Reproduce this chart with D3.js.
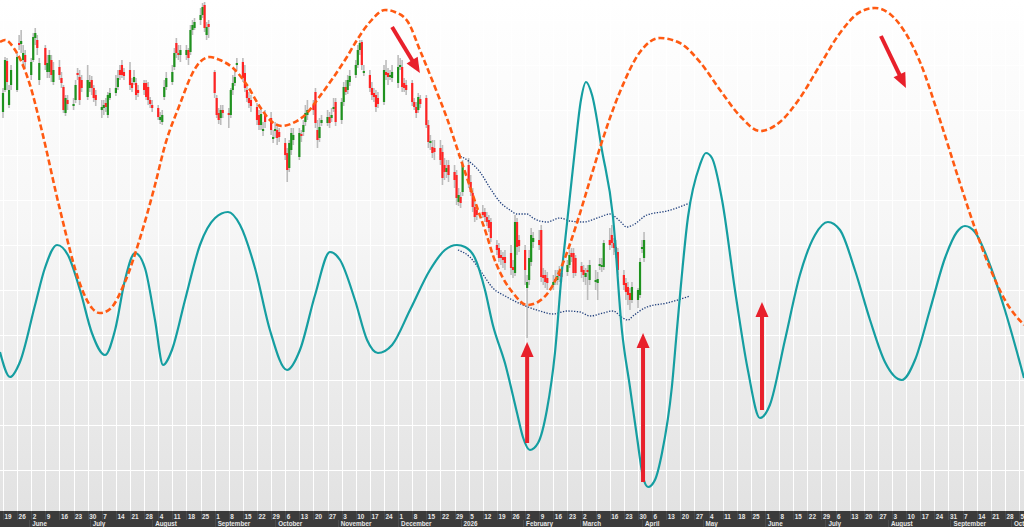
<!DOCTYPE html>
<html><head><meta charset="utf-8">
<script src="https://cdn.jsdelivr.net/npm/d3@7"></script>
<style>html,body{margin:0;padding:0;background:#fff;overflow:hidden}svg{display:block}</style>
</head><body>
<svg id="c" width="1024" height="527"></svg>
<script>
// ---------- DATA ----------
const startDate = Date.UTC(2025, 4, 19);
const endDate = Date.UTC(2026, 9, 5);

// daily OHLC (trading days from 2025-05-19)
const open = [388,410,439,395,415, 410,457,456,440,445, 425,440,462,460,420, 452,428,428,440,418,
 433,422,413,387,400, 394,400,427,423,420, 403,412,420,412,405, 390,392,397,385,402,
 407,413,430,435,428, 430,417,418,417,410, 417,417,413,400,395, 392,380,378,403,413,
 418,433,457,447,445, 445,450,448,470,472, 480,485,495,465,476, 428,402,387,382,390,
 387,385,410,417,435, 438,427,410,402,400, 393,385,375,369,385, 382,361,369,370,368,
 357,347,332,350,360, 343,366,368,378,385, 395,408,370,362,377, 377,383,382,391,398,
 380,398,413,410,418, 425,435,450,458,427, 425,412,407,405,402, 398,428,427,423,422,
 417,433,433,417,415, 417,398,393,390,401, 402,375,357,353,352, 352,348,335,328,335,
 328,325,298,303,308, 335,318,307,293,290, 288,288,283,280,278, 255,252,245,243,243,
 247,233,227,278,260, 250,212,220,238,258, 260,270,225,225,222, 215,219,220,228,227,
 228,235,247,247,242, 234,230,223,230,220, 218,217,234,233,233, 260,265,257,253,248,
 225,217,213,207,200, 200,205,251,242];
const high = [412,443,442,415,435, 447,465,470,455,450, 442,467,472,465,442, 455,445,450,445,438,
 440,428,415,405,405, 402,420,432,430,425, 435,425,424,415,410, 400,400,402,408,412,
 425,430,435,440,432, 438,422,430,422,415, 420,420,418,403,400, 395,388,390,420,428,
 435,452,462,455,455, 455,452,475,480,482, 492,497,498,478,480, 430,405,392,395,395,
 392,412,425,430,442, 442,435,415,408,405, 397,390,392,378,390, 388,370,378,375,372,
 362,352,360,372,372, 372,370,380,395,400, 400,412,380,382,385, 390,388,392,402,402,
 402,418,420,425,430, 440,455,460,460,435, 430,418,412,410,408, 435,440,432,430,435,
 445,442,440,422,420, 420,402,398,407,405, 405,380,365,360,360, 360,355,342,340,340,
 335,330,312,308,340, 342,325,312,300,295, 295,292,288,285,282, 260,257,250,248,250,
 255,240,285,282,265, 255,225,250,272,268, 270,275,232,230,228, 225,230,230,234,232,
 240,250,252,252,245, 238,235,232,235,240, 230,228,242,242,260, 272,275,262,260,252,
 230,222,218,212,218, 212,242,260,268];
const low = [382,408,410,392,410, 408,450,447,435,432, 420,438,455,445,415, 430,422,422,418,415,
 420,412,387,384,390, 390,397,420,395,408, 400,408,405,398,394, 382,385,388,382,400,
 404,410,420,422,420, 410,408,415,400,403, 405,400,395,392,388, 380,376,375,400,410,
 415,430,442,440,438, 440,435,445,465,470, 475,482,468,460,462, 402,382,376,375,382,
 372,382,405,414,430, 418,408,398,392,388, 375,370,370,364,372, 365,357,362,355,358,
 340,318,328,345,355, 340,358,364,374,380, 385,372,352,358,374, 374,372,378,388,374,
 376,394,405,406,414, 422,432,445,430,424, 408,400,398,388,392, 395,420,415,420,418,
 412,430,408,408,405, 394,390,382,387,392, 372,352,350,342,340, 335,315,320,322,318,
 312,295,294,292,304, 312,304,288,278,280, 282,278,274,268,258, 245,238,235,232,230,
 225,222,224,245,248, 215,162,215,234,252, 250,218,215,212,210, 210,215,215,218,218,
 224,232,238,222,224, 222,218,215,200,215, 210,200,230,228,230, 250,252,245,242,225,
 210,200,195,190,197, 192,202,247,238];
const close = [407,440,418,410,430, 443,455,459,447,438, 438,463,467,452,437, 435,437,445,425,430,
 425,417,390,402,396, 396,415,425,400,412, 420,418,412,402,400, 393,395,393,405,407,
 412,422,425,425,424, 415,412,423,405,407, 410,403,400,396,392, 383,383,385,413,422,
 428,447,447,445,450, 450,442,470,475,478, 485,493,472,473,473, 407,385,380,390,387,
 385,410,417,423,437, 422,412,402,397,394, 380,375,386,371,378, 370,363,371,362,363,
 345,330,357,367,365, 367,364,375,387,390, 390,377,360,373,380, 383,377,385,393,378,
 398,413,408,420,424, 435,450,457,435,429, 412,405,403,393,396, 430,425,423,425,428,
 433,435,413,412,410, 398,393,387,403,396, 375,358,359,347,348, 340,322,328,332,325,
 320,302,305,297,335, 317,308,293,283,285, 285,283,278,272,262, 250,242,242,240,237,
 232,230,278,253,254, 230,218,242,265,262, 255,223,222,218,217, 218,221,224,224,223,
 235,245,243,227,227, 228,225,227,228,235, 220,221,236,235,257, 255,257,252,248,230,
 215,208,205,200,213, 210,238,253,260];

// dominant cycle (teal) : [day offset from start, value]
const tealCycle = [[-1.5,148],[3.5,123],[8.4,138],[15.9,195],[20.8,232],[26.8,255],[32.2,245],[38.2,210],[44.1,167],[50.6,145],
 [55.6,170],[60.5,220],[65.5,247],[70.4,232],[75.4,180],[79.4,135],[83.8,150],[90.3,200],[97.7,255],[105.2,282],
 [111.6,288],[117.6,275],[125,232],[132.4,170],[140.9,130],[147.3,150],[154.8,205],[162.2,248],[167.2,240],[174.6,200],
 [180.6,160],[186,147],[193,155],[201.9,190],[211.8,230],[219.2,250],[225.2,255],[229.2,253],[234.1,242],[239.1,210],
 [243,175],[249,137],[255,87],[257.9,63],[261.4,50],[265.4,57],[269.8,90],[273.8,147],[277.3,230],[279.8,277],
 [283.7,350],[286.7,400],[289.2,418],[292.2,405],[297.1,350],[302.6,283],[307,170],[311,113],[314.5,63],[317.5,23],
 [320,13],[323.4,20],[326.9,47],[331.8,113],[334.3,170],[339.8,283],[345.7,335],[348.7,347],[351.7,342],[356.7,300],
 [363.1,210],[369.5,130],[375.5,82],[380.4,95],[387.9,160],[395.3,225],[402.8,265],[409.2,278],[415.2,270],[422.6,230],
 [430.1,180],[437.5,138],[445.9,120],[452.4,140],[459.8,190],[467.3,242],[473.2,268],[477.2,274],[482.1,268],[489.6,235],
 [497,190],[506.5,122]];

// long cycle (orange dashed) : [day offset, value]
const longCycle = [[-1.5,458],[1,460],[6,450],[13.4,415],[19.3,369],[28.3,290],[38.2,216],[44.1,192],[48.1,187],[53.1,191],
 [60.5,218],[68,262],[75.4,315],[80.4,355],[87.8,396],[93.8,426],[97.7,438],[102.7,443],[107.6,440],[114.1,432],
 [121,415],[127.5,393],[132.4,380],[138.4,374],[143.8,377],[150.8,387],[155.8,400],[163.7,422],[170.6,443],[175.6,460],
 [182,478],[189.5,490],[194.4,488],[200.9,478],[206.8,450],[215.8,405],[220.2,382],[225.2,352],[230.2,322],[235.1,293],
 [240.1,264],[243,245],[246.5,228],[253,207],[260,195],[265.4,198],[271.3,210],[277.8,237],[284.7,277],[291.2,320],
 [296.1,352],[306,408],[316,448],[325.9,462],[335.8,457],[345.7,438],[355.7,410],[365.6,384],[375.5,369],[385.4,378],
 [395.3,402],[405.3,435],[415.2,467],[425.1,488],[432.5,492],[440,486],[447.4,468],[454.9,438],[464.8,380],[474.7,317],
 [482.1,272],[489.6,232],[497,200],[506.5,175]];

// projection bands
const upperBand = [[225.7,345],[231.6,338],[236.6,328],[241.6,312],[246.5,298],[251.5,290],[255,286],[260,286],[262.9,282],[269.8,278],
 [276.3,282],[281.2,279],[287.7,278],[296.1,283],[301.1,286],[306,279],[309.5,273],[312.5,275],[319.4,285],[329.4,289],[340.8,297]];
const lowerBand = [[225.7,250],[231.6,243],[236.6,230],[243,212],[250,203],[257.9,195],[266.4,189],[272.8,186],[279.8,189],[286.2,188],
 [291.2,184],[297.6,187],[302.6,189],[307.5,182],[310,180],[312.5,184],[319.4,193],[329.4,197],[340.8,204]];

// turning-point arrows: [fromDay, fromValue, toDay, toValue]
const arrowsData = [[193,473,206.8,427],[435.5,464,447.9,412],[260,57,260,158],[317.5,18,317.5,167],[376.5,90,376.5,198]];

const gridValues = [30,75,120,165,210,255,300,345,390,435,480];

// ---------- CHART ----------
const W = 1024, H = 527, plotBottom = 511;
const svg = d3.select("#c");
const x = d3.scaleUtc().domain([startDate, endDate]).range([3, 1019]);
const y = d3.scaleLinear().domain([0, 500]).range([500, 0]);
const dayDate = d => new Date(startDate + d * 864e5);

const defs = svg.append("defs");
const grad = defs.append("linearGradient").attr("id","bg").attr("x1",0).attr("y1",0).attr("x2",0).attr("y2",1);
grad.append("stop").attr("offset","0%").attr("stop-color","#ffffff");
grad.append("stop").attr("offset","45%").attr("stop-color","#f6f6f6");
grad.append("stop").attr("offset","100%").attr("stop-color","#e2e2e2");
defs.append("clipPath").attr("id","plotclip").append("rect").attr("x",0).attr("y",0).attr("width",W).attr("height",plotBottom);

svg.append("rect").attr("x",0).attr("y",0).attr("width",W).attr("height",plotBottom).attr("fill","url(#bg)");

const weeks = d3.utcMonday.range(startDate, endDate + 864e5);
const g = svg.append("g").attr("clip-path","url(#plotclip)");
g.append("g").selectAll("line").data(weeks).join("line")
  .attr("x1", d => Math.round(x(d)) + 0.5).attr("x2", d => Math.round(x(d)) + 0.5)
  .attr("y1", 0).attr("y2", plotBottom).attr("stroke", "#ffffff").attr("stroke-width", 1);
g.append("g").selectAll("line").data(gridValues).join("line")
  .attr("x1", 0).attr("x2", W).attr("y1", d => Math.round(y(d)) + 0.5).attr("y2", d => Math.round(y(d)) + 0.5)
  .attr("stroke", "#ffffff").attr("stroke-width", 1);

// trading dates
const dates = [];
for (let d = new Date(startDate); dates.length < open.length; d = d3.utcDay.offset(d, 1)) {
  const wd = d.getUTCDay();
  if (wd > 0 && wd < 6) dates.push(d);
}
const candles = dates.map((d, i) => ({date: d, o: open[i], h: high[i], l: low[i], c: close[i]}));

const cg = g.append("g");
cg.selectAll("line").data(candles).join("line")
  .attr("x1", d => x(d.date)).attr("x2", d => x(d.date))
  .attr("y1", d => y(d.h)).attr("y2", d => y(d.l))
  .attr("stroke", "#bcbcbc").attr("stroke-width", 1.6);
cg.selectAll("rect").data(candles).join("rect")
  .attr("x", d => x(d.date) - 1.1).attr("width", 2.2)
  .attr("y", d => y(Math.max(d.o, d.c)))
  .attr("height", d => Math.max(1.2, Math.abs(y(d.o) - y(d.c))))
  .attr("fill", d => d.c >= d.o ? "#1f921f" : "#ff2424");

const line = d3.line().x(d => x(dayDate(d[0]))).y(d => y(d[1])).curve(d3.curveMonotoneX);

g.append("path").datum(upperBand).attr("d", line).attr("fill","none")
  .attr("stroke","#1f3f7c").attr("stroke-width",1.3).attr("stroke-dasharray","1.3,1.5");
g.append("path").datum(lowerBand).attr("d", line).attr("fill","none")
  .attr("stroke","#1f3f7c").attr("stroke-width",1.3).attr("stroke-dasharray","1.3,1.5");

g.append("path").datum(tealCycle).attr("d", line).attr("fill","none")
  .attr("stroke","#159ea1").attr("stroke-width",2.2);
g.append("path").datum(longCycle).attr("d", line).attr("fill","none")
  .attr("stroke","#ff5a12").attr("stroke-width",2.6).attr("stroke-dasharray","6,3");

// arrows
const ag = g.append("g");
arrowsData.forEach(a => {
  const x1 = x(dayDate(a[0])), y1 = y(a[1]), x2 = x(dayDate(a[2])), y2 = y(a[3]);
  const dx = x2 - x1, dy = y2 - y1, len = Math.hypot(dx, dy), ux = dx / len, uy = dy / len;
  const hl = 15, hw = 6.5;
  const bx = x2 - ux * hl, by = y2 - uy * hl;
  ag.append("line").attr("x1", x1).attr("y1", y1).attr("x2", bx + ux).attr("y2", by + uy)
    .attr("stroke", "#e8202b").attr("stroke-width", 4);
  ag.append("path").attr("d", `M${x2},${y2}L${bx - uy * hw},${by + ux * hw}L${bx + uy * hw},${by - ux * hw}Z`)
    .attr("fill", "#e8202b");
});

// ---------- AXIS ----------
const axis = svg.append("g");
axis.append("rect").attr("x",0).attr("y",plotBottom).attr("width",W).attr("height",H - plotBottom).attr("fill","#3b3b3b");
axis.append("g").selectAll("line").data(weeks).join("line")
  .attr("x1", d => Math.round(x(d)) + 0.5).attr("x2", d => Math.round(x(d)) + 0.5)
  .attr("y1", plotBottom).attr("y2", plotBottom + 9).attr("stroke", "#4c4c4c");
axis.append("g").selectAll("text").data(weeks).join("text")
  .attr("x", d => x(d) + 1.5).attr("y", plotBottom + 7.6)
  .attr("font-family", "'Liberation Sans', Arial, sans-serif").attr("font-size", 6.4).attr("font-weight", "bold")
  .attr("fill", "#e6e6e6").text(d3.utcFormat("%-d"));
const months = d3.utcMonth.range(d3.utcMonth.ceil(startDate), endDate + 864e5);
axis.append("g").selectAll("line").data(months).join("line")
  .attr("x1", d => Math.round(x(d)) + 0.5).attr("x2", d => Math.round(x(d)) + 0.5)
  .attr("y1", plotBottom + 9).attr("y2", H).attr("stroke", "#4c4c4c");
axis.append("g").selectAll("text").data(months).join("text")
  .attr("x", d => x(d) + 3).attr("y", H - 1.2)
  .attr("font-family", "'Liberation Sans', Arial, sans-serif").attr("font-size", 6.3).attr("font-weight", "bold")
  .attr("fill", "#e6e6e6").text(d => d.getUTCMonth() === 0 ? d3.utcFormat("%Y")(d) : d3.utcFormat("%B")(d));
</script>
</body></html>
